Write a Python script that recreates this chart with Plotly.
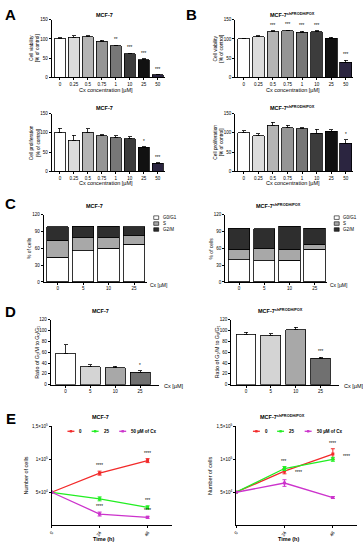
import plotly.graph_objects as go

# ---------------- DATA ----------------
conc_labels = ["0", "0.25", "0.5", "0.75", "1", "10", "25", "50"]

via_mcf7 = [100, 105, 106, 94, 82, 61, 45, 6]
via_mcf7_err = [3, 3, 2, 3, 2, 2, 3, 1]
via_mcf7_sig = ["", "", "", "", "**", "***", "***", "***"]

via_sh = [100, 106, 119, 121, 118, 119, 102, 39]
via_sh_err = [2, 2, 3, 2, 2, 2, 3, 5]
via_sh_sig = ["", "", "***", "***", "***", "***", "", "***"]

prol_mcf7 = [100, 81, 102, 92, 87, 85, 63, 20]
prol_mcf7_err = [12, 13, 9, 3, 6, 5, 1, 2]
prol_mcf7_sig = ["", "", "", "", "", "", "*", "***"]

prol_sh = [100, 92, 120, 114, 111, 99, 104, 73]
prol_sh_err = [5, 6, 8, 6, 3, 11, 4, 9]
prol_sh_sig = ["", "", "", "", "", "", "", "*"]

cc_doses = ["0", "5", "10", "25"]
g1_mcf7 = [44, 56, 60, 67]
s_mcf7 = [30, 23, 19, 15]
g2m_mcf7 = [24, 20, 20, 16]
g1_sh = [40, 38, 39, 58]
s_sh = [18, 22, 19, 9]
g2m_sh = [38, 35, 41, 29]
phase_names = ["G0/G1", "S", "G2/M"]

ratio_mcf7 = [58, 33, 31, 23]
ratio_mcf7_err = [16, 4, 3, 3]
ratio_mcf7_sig = ["", "", "", "*"]
ratio_sh = [93, 91, 101, 49]
ratio_sh_err = [4, 3, 5, 2]
ratio_sh_sig = ["", "", "", "***"]

time_h = [0, 24, 48]
e_names = ["0", "25", "50 µM of Cx"]
mcf7_counts = [[50000, 79000, 98000], [50000, 40000, 27000], [50000, 17000, 12000]]
mcf7_counts_err = [[0, 3000, 3000], [0, 3000, 2500], [0, 3000, 1500]]
sh_counts = [[50000, 82000, 108000], [50000, 86000, 100000], [50000, 64000, 42000]]
sh_counts_err = [[0, 4000, 8000], [0, 3000, 3000], [0, 5000, 1500]]

# ---------------- STYLE ----------------
W, H = 363, 550
FONT = "Arial, Liberation Sans, sans-serif"
TICK = 4.5
bar8_colors = ["#ffffff", "#dcdcdc", "#b4b4b4", "#959595", "#777777", "#3c3c3c", "#111111", "#2b2540"]
bar4_colors = ["#ffffff", "#d4d4d4", "#a8a8a8", "#707070"]
phase_colors = ["#ffffff", "#a8a8a8", "#2e2e2e"]
line_colors = ["#f22a2a", "#22ee22", "#cc33cc"]


def fx(p):
    return p / W


def fy(p):
    return 1 - p / H


fig = go.Figure()
layout = dict(width=W, height=H, margin=dict(l=0, r=0, t=0, b=0),
              paper_bgcolor="white", plot_bgcolor="white", showlegend=False,
              barmode="stack", bargap=0.2,
              font=dict(family=FONT, size=5, color="black"))
annotations = []
shapes = []


def axname(i):
    return ("x", "y") if i == 1 else (f"x{i}", f"y{i}")


def add_axes(i, box, xr, yr, xtv, xtt, ytv, ytt=None, xangle=0):
    l, r, t, b = box
    common = dict(showline=True, linecolor="black", linewidth=1, ticks="outside",
                  ticklen=2, tickwidth=1, tickcolor="black", showgrid=False,
                  zeroline=False, fixedrange=True,
                  tickfont=dict(size=TICK, family=FONT, color="black"))
    xa = dict(domain=[fx(l), fx(r)], range=xr, anchor=axname(i)[1], tickvals=xtv,
              ticktext=xtt, tickangle=xangle, **common)
    ya = dict(domain=[fy(b), fy(t)], range=yr, anchor=axname(i)[0], tickvals=ytv, **common)
    if ytt is not None:
        ya["ticktext"] = ytt
    layout["xaxis" if i == 1 else f"xaxis{i}"] = xa
    layout["yaxis" if i == 1 else f"yaxis{i}"] = ya


def text(x, y, s, size=5, bold=False, angle=0, xanchor="center", yanchor="middle"):
    annotations.append(dict(x=fx(x), y=fy(y), xref="paper", yref="paper", text=(f"<b>{s}</b>" if bold else s),
                            showarrow=False, textangle=angle, xanchor=xanchor, yanchor=yanchor,
                            font=dict(size=size, family=FONT, color="black")))


def bar_panel(i, box, labels, vals, errs, sig, colors, ymax, ytv, width=0.75):
    xs = list(range(len(labels)))
    add_axes(i, box, [-0.6, len(labels) - 0.5], [0, ymax], xs, labels, ytv)
    xa, ya = axname(i)
    fig.add_trace(go.Bar(x=xs, y=vals, width=width, xaxis=xa, yaxis=ya,
                         marker=dict(color=colors, line=dict(color="black", width=0.8)),
                         error_y=dict(type="data", symmetric=False, array=errs, arrayminus=[0] * len(errs),
                                      color="black", thickness=0.8, width=2)))
    for xv, v, e, s in zip(xs, vals, errs, sig):
        if s:
            annotations.append(dict(x=xv, y=v + e, xref=xa, yref=ya, text=s, showarrow=False,
                                    yanchor="bottom", yshift=1, font=dict(size=4.5, family=FONT, color="black")))


# ---------- A / B : viability ----------
bar_panel(1, (49, 163, 17, 75), conc_labels, via_mcf7, via_mcf7_err, via_mcf7_sig, bar8_colors, 150, [0, 50, 100, 150], width=0.8)
bar_panel(2, (234, 353, 17, 75), conc_labels, via_sh, via_sh_err, via_sh_sig, bar8_colors, 150, [0, 50, 100, 150], width=0.8)
bar_panel(3, (49, 163, 112, 170), conc_labels, prol_mcf7, prol_mcf7_err, prol_mcf7_sig, bar8_colors, 150, [0, 50, 100, 150], width=0.8)
bar_panel(4, (234, 353, 112, 170), conc_labels, prol_sh, prol_sh_err, prol_sh_sig, bar8_colors, 150, [0, 50, 100, 150], width=0.8)

SH = "MCF-7<sup>shPRODH/POX</sup>"
text(8, 12, "A", size=15, bold=True)
text(190, 12, "B", size=15, bold=True)
text(102, 12, "MCF-7", size=5.5, bold=True)
text(292, 12, SH, size=5.5, bold=True)
text(102, 106, "MCF-7", size=5.5, bold=True)
text(292, 106, SH, size=5.5, bold=True)
for (cx, cy, s) in [(32, 46, "Cell viability<br>[% of control]"), (217, 46, "Cell viability<br>[% of control]"),
                    (32, 141, "Cell proliferation<br>[% of control]"), (217, 141, "Cell proliferation<br>[% of control]")]:
    text(cx, cy, s, size=4.8, angle=-90)
for (cx, cy) in [(104, 88), (292, 88), (104, 182), (292, 182)]:
    text(cx, cy, "Cx concentration [µM]", size=5.5)

# ---------- C : cell cycle ----------
for i, box, phases, lx, title_x in [(5, (41, 145, 214, 282), [g1_mcf7, s_mcf7, g2m_mcf7], 152, 92),
                                    (6, (224, 327, 214, 282), [g1_sh, s_sh, g2m_sh], 334, 278)]:
    xs = list(range(len(cc_doses)))
    add_axes(i, box, [-0.55, 3.5], [0, 120], xs, cc_doses, [0, 30, 60, 90, 120])
    xa, ya = axname(i)
    for name, vals, col in zip(phase_names, phases, phase_colors):
        fig.add_trace(go.Bar(x=xs, y=vals, name=name, width=0.85, xaxis=xa, yaxis=ya,
                             marker=dict(color=col, line=dict(color="black", width=0.8))))
    text(title_x, 205, "MCF-7" if i == 5 else SH, size=5.5, bold=True)
    text(box[1] + 12, 285, "Cx [µM]", size=5)
    text(box[0] - 14, 248, "% of cells", size=5, angle=-90)
    for k, (name, col) in enumerate(zip(phase_names, phase_colors)):
        yy = 217 + 6 * k
        shapes.append(dict(type="rect", xref="paper", yref="paper", x0=fx(lx), x1=fx(lx + 5),
                           y0=fy(yy + 1.8), y1=fy(yy - 1.8), fillcolor=col, line=dict(color="black", width=0.6)))
        text(lx + 7, yy, name, size=4.5, xanchor="left")
text(8, 203, "C", size=15, bold=True)

# ---------- D : G2/M ratio ----------
for i, box, vals, errs, sig, title_x in [(7, (48, 157, 320, 386), ratio_mcf7, ratio_mcf7_err, ratio_mcf7_sig, 98),
                                         (8, (230, 339, 320, 386), ratio_sh, ratio_sh_err, ratio_sh_sig, 280)]:
    bar_panel(i, box, cc_doses, vals, errs, sig, bar4_colors, 120, [0, 20, 40, 60, 80, 100, 120], width=0.8)
    layout["xaxis%d" % i]["range"] = [-0.6, 3.75]
    text(title_x, 311, "MCF-7" if i == 7 else SH, size=5.5, bold=True)
    text(box[1] + 15, 387, "Cx [µM]", size=5.5)
    text(box[0] - 14, 353, "Ratio of G<sub>2</sub>/M to G<sub>0</sub>/G<sub>1</sub>", size=5.3, angle=-90)
text(8, 312, "D", size=15, bold=True)

# ---------- E : growth curves ----------
e_sig = {9: [(0, 1, "****", 0, 0), (0, 2, "****", 0, 0), (1, 2, "***", 0, 0), (2, 1, "****", 0, 0), (2, 2, "****", 0, 0)],
         10: [(1, 1, "***", 0, 0), (0, 1, "****", 14, -9), (0, 2, "****", 0, 0), (1, 2, "****", 14, -5)]}
for i, box, counts, errs, title_x, lx in [(9, (49, 170, 428, 528), mcf7_counts, mcf7_counts_err, 98, 65),
                                         (10, (235, 357, 428, 528), sh_counts, sh_counts_err, 282, 252)]:
    add_axes(i, box, [0, 60], [0, 150000], time_h, [str(t) for t in time_h],
             [50000, 100000, 150000], ["5×10<sup>4</sup>", "1×10<sup>5</sup>", "1,5×10<sup>5</sup>"], xangle=-60)
    xa, ya = axname(i)
    for name, vals, ev, col in zip(e_names, counts, errs, line_colors):
        fig.add_trace(go.Scatter(x=time_h, y=vals, name=name, mode="lines+markers", xaxis=xa, yaxis=ya,
                                 line=dict(color=col, width=1.3), marker=dict(color=col, size=3, symbol="square"),
                                 error_y=dict(type="data", array=ev, color=col, thickness=1, width=2)))
    for (s_i, t_i, s, xs_, ys_) in e_sig[i]:
        annotations.append(dict(x=time_h[t_i], y=counts[s_i][t_i] + errs[s_i][t_i], xref=xa, yref=ya, text=s,
                                showarrow=False, yanchor="bottom", xshift=xs_, yshift=1 + ys_,
                                font=dict(size=4.5, family=FONT, color="black")))
    text(title_x, 419, "MCF-7" if i == 9 else SH, size=5.5, bold=True)
    text((box[0] + box[1]) / 2 - 8, 542, "Time (h)", size=5.5, bold=True)
    text(box[0] - 26, 478, "Number of cells", size=5.5, angle=-90)
    # legend
    x = lx
    for name, col in zip(e_names, line_colors):
        shapes.append(dict(type="line", xref="paper", yref="paper", x0=fx(x), x1=fx(x + 7), y0=fy(433), y1=fy(433),
                           line=dict(color=col, width=1.3)))
        shapes.append(dict(type="rect", xref="paper", yref="paper", x0=fx(x + 2.3), x1=fx(x + 4.7), y0=fy(434.2),
                           y1=fy(431.8), fillcolor=col, line=dict(color=col, width=0)))
        text(x + 10, 433, name, size=4.5, bold=True, xanchor="left")
        x += 10 + 5 + 4 * len(name) * 0.85 + 6
text(8, 420, "E", size=15, bold=True)

layout["annotations"] = annotations
layout["shapes"] = shapes
fig.update_layout(**layout)
fig.write_html("out.html", config={"displayModeBar": False, "staticPlot": True},
               post_script="document.body.style.margin='0';document.body.style.overflow='hidden';")
